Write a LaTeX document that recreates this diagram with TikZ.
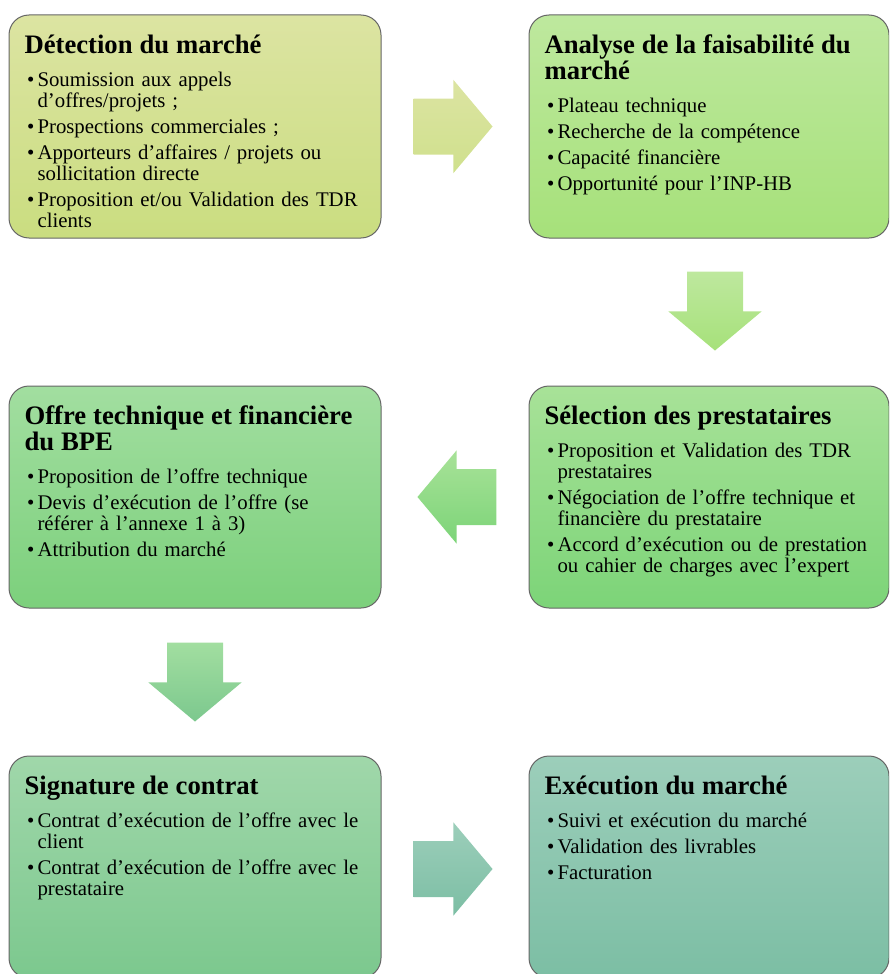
\documentclass[tikz,border=0pt]{standalone}
\usepackage{fontspec}
\setmainfont{Liberation Serif}
\usepackage{xcolor}
\usepackage{tikz}
\usetikzlibrary{calc,shapes.arrows,positioning}
\definecolor{Olive1}{RGB}{220,228,162}
\definecolor{Olive2}{RGB}{202,221,128}
\definecolor{Vert1}{RGB}{190,232,158}
\definecolor{Vert2}{RGB}{166,225,122}
\definecolor{Pre1}{RGB}{168,226,152}
\definecolor{Pre2}{RGB}{124,212,120}
\definecolor{Off1}{RGB}{162,222,160}
\definecolor{Off2}{RGB}{124,208,124}
\definecolor{Sig1}{RGB}{160,215,170}
\definecolor{Sig2}{RGB}{124,200,142}
\definecolor{Exe1}{RGB}{156,206,186}
\definecolor{Exe2}{RGB}{124,190,164}
\newcommand{\titre}[1]{{\fontsize{20}{20}\selectfont\bfseries #1\par}\vspace{5.25pt}}
\newcommand{\puce}[1]{\par\noindent\hangindent=9.75pt\hangafter=1\hbox to 9.75pt{\hspace{2pt}\textbullet\hss}#1\par}

\begin{document}
\begin{tikzpicture} [x=0.75pt, y=-0.75pt, thick,
       etape/.style 2 args = {rectangle, rounded corners=15pt, anchor=north west,
                              line width=0.75pt, draw=black!60, outer sep=0pt,
                              top color=#1, bottom color=#2},
       contenu/.style = {anchor=north west, inner sep=0pt, text width=262pt, align=left,
                         font={\fontsize{15.6}{15.75}\selectfont\parskip=3.75pt}},
       fleche/.style 2 args = {single arrow, draw=none, anchor=tail, minimum height=59.25pt,
                               single arrow head extend=13.9pt, single arrow tip angle=100,
                               top color=#1, bottom color=#2},
       horiz/.style = {inner xsep=0pt, inner ysep=20.6pt},
       vert/.style = {inner xsep=20.6pt, inner ysep=0pt, shape border rotate=270}]
	\useasboundingbox (0,0) rectangle (889,974);
	\clip (0,0) rectangle (889,974);

	%% Etapes
	\node [etape={Olive1}{Olive2}, minimum width=279pt, minimum height=167.25pt] (det) at (9,15) {};
	\node [etape={Vert1}{Vert2}, minimum width=270pt, minimum height=167.25pt] (ana) at (529,15) {};
	\node [etape={Pre1}{Pre2}, minimum width=270pt, minimum height=166.5pt] (sel) at (529,386) {};
	\node [etape={Off1}{Off2}, minimum width=279pt, minimum height=166.5pt] (off) at (9,386) {};
	\node [etape={Sig1}{Sig2}, minimum width=279pt, minimum height=166.5pt] (sig) at (9,756) {};
	\node [etape={Exe1}{Exe2}, minimum width=270pt, minimum height=166.5pt] (exe) at (529,756) {};

	%% Textes
	\node [contenu] (det-txt) at ([shift={(15,19)}]det.north west) {\titre{Détection du marché}
	      \puce{Soumission aux appels\newline d’offres/projets ;}
	      \puce{Prospections commerciales ;}
	      \puce{Apporteurs d’affaires / projets ou\newline sollicitation directe}
	      \puce{Proposition et/ou Validation des TDR\newline clients}};
	\node [contenu] (ana-txt) at ([shift={(15,19)}]ana.north west) {\titre{Analyse de la faisabilité du\newline marché}
	      \puce{Plateau technique}
	      \puce{Recherche de la compétence}
	      \puce{Capacité financière}
	      \puce{Opportunité pour l’INP-HB}};
	\node [contenu] (sel-txt) at ([shift={(15,19)}]sel.north west) {\titre{Sélection des prestataires}
	      \puce{Proposition et Validation des TDR\newline prestataires}
	      \puce{Négociation de l’offre technique et\newline financière du prestataire}
	      \puce{Accord d’exécution ou de prestation\newline ou cahier de charges avec l’expert}};
	\node [contenu] (off-txt) at ([shift={(15,19)}]off.north west) {\titre{Offre technique et financière\newline du BPE}
	      \puce{Proposition de l’offre technique}
	      \puce{Devis d’exécution de l’offre (se\newline référer à l’annexe 1 à 3)}
	      \puce{Attribution du marché}};
	\node [contenu] (sig-txt) at ([shift={(15,19)}]sig.north west) {\titre{Signature de contrat}
	      \puce{Contrat d’exécution de l’offre avec le\newline client}
	      \puce{Contrat d’exécution de l’offre avec le\newline prestataire}};
	\node [contenu] (exe-txt) at ([shift={(15,19)}]exe.north west) {\titre{Exécution du marché}
	      \puce{Suivi et exécution du marché}
	      \puce{Validation des livrables}
	      \puce{Facturation}};

	%% Fleches
	\node [fleche={Olive1}{Olive2!90!white}, horiz] (f1) at ([shift={(32,0)}]det.east) {};
	\node [fleche={Vert1}{Vert2}, vert] (f2) at ([shift={(6,33)}]ana.south) {};
	\node [fleche={Pre1}{Pre2}, horiz, shape border rotate=180] (f3) at ([shift={(-32,0)}]sel.west) {};
	\node [fleche={Off1}{Sig2}, vert] (f4) at ([shift={(0,34)}]off.south) {};
	\node [fleche={Exe1}{Exe2}, horiz] (f5) at ([shift={(32,2)}]sig.east) {};
\end{tikzpicture}
\end{document}
